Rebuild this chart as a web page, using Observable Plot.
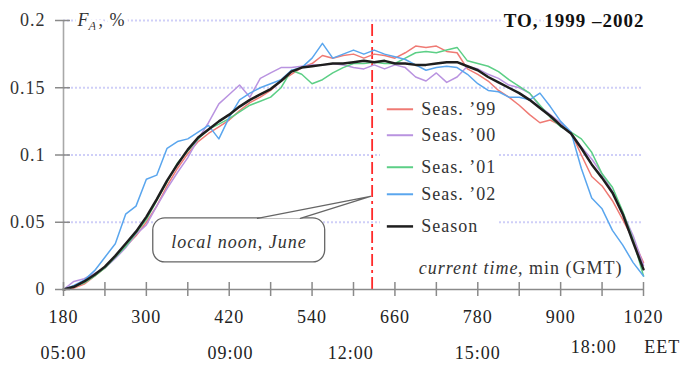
<!DOCTYPE html>
<html>
<head>
<meta charset="utf-8">
<script src="https://cdn.jsdelivr.net/npm/d3@7"></script>
<script src="https://cdn.jsdelivr.net/npm/@observablehq/plot@0.6"></script>
<style>
  html, body { margin: 0; padding: 0; background: #fff; }
  svg text { font-family: "Liberation Serif", "DejaVu Serif", "Times New Roman", serif; letter-spacing: 1px; }
</style>
</head>
<body>
<div id="chart"></div>
<script>
// ---------- data ----------
const minutes = [180,195,210,225,240,255,270,285,300,315,330,345,360,375,390,405,420,435,450,465,480,495,510,525,540,555,570,585,600,615,630,645,660,675,690,705,720,735,750,765,780,795,810,825,840,855,870,885,900,915,930,945,960,975,990,1005,1020];

const seas99 = [0.000,0.001,0.004,0.010,0.016,0.024,0.032,0.040,0.050,0.062,0.077,0.090,0.101,0.110,0.116,0.121,0.126,0.133,0.139,0.143,0.148,0.155,0.160,0.165,0.168,0.174,0.172,0.174,0.175,0.172,0.175,0.174,0.172,0.176,0.181,0.180,0.181,0.177,0.176,0.164,0.160,0.155,0.148,0.143,0.137,0.130,0.124,0.126,0.122,0.117,0.100,0.084,0.077,0.066,0.052,0.037,0.020];

const seas00 = [0.000,0.006,0.008,0.012,0.016,0.023,0.031,0.041,0.048,0.062,0.075,0.087,0.098,0.112,0.124,0.138,0.145,0.152,0.143,0.157,0.161,0.165,0.165,0.166,0.167,0.167,0.168,0.167,0.165,0.164,0.167,0.164,0.167,0.165,0.158,0.155,0.161,0.154,0.158,0.166,0.164,0.160,0.157,0.152,0.150,0.146,0.136,0.130,0.124,0.116,0.106,0.097,0.086,0.073,0.057,0.040,0.018];

const seas01 = [0.000,0.002,0.005,0.010,0.016,0.024,0.032,0.042,0.052,0.066,0.080,0.094,0.103,0.112,0.119,0.123,0.127,0.132,0.137,0.140,0.143,0.150,0.163,0.160,0.153,0.156,0.161,0.165,0.168,0.168,0.169,0.168,0.168,0.172,0.176,0.177,0.176,0.178,0.180,0.170,0.168,0.166,0.162,0.156,0.151,0.146,0.137,0.128,0.121,0.117,0.112,0.102,0.086,0.076,0.058,0.037,0.010];

const seas02 = [0.000,0.003,0.007,0.014,0.024,0.034,0.056,0.062,0.082,0.085,0.105,0.110,0.112,0.117,0.122,0.112,0.128,0.141,0.146,0.150,0.153,0.156,0.163,0.165,0.172,0.183,0.172,0.175,0.178,0.175,0.178,0.175,0.173,0.171,0.167,0.163,0.165,0.166,0.165,0.160,0.153,0.148,0.147,0.143,0.143,0.141,0.146,0.136,0.125,0.117,0.090,0.068,0.060,0.044,0.033,0.020,0.010];

const season = [0.000,0.002,0.006,0.011,0.017,0.025,0.034,0.043,0.054,0.067,0.081,0.093,0.104,0.113,0.119,0.125,0.130,0.136,0.141,0.145,0.149,0.155,0.162,0.165,0.166,0.167,0.168,0.168,0.169,0.170,0.169,0.170,0.168,0.168,0.167,0.167,0.168,0.169,0.169,0.166,0.163,0.158,0.154,0.150,0.146,0.141,0.135,0.129,0.122,0.116,0.105,0.093,0.083,0.072,0.056,0.035,0.015];

const seriesNames = ["Seas. \u201999", "Seas. \u201900", "Seas. \u201901", "Seas. \u201902", "Season"];
const seriesColors = ["#ef7a74", "#b993e0", "#5ccf86", "#5aa6ee", "#1e1e1e"];

const xTickValues = [180,240,300,360,420,480,540,600,660,720,780,840,900,960,1020];
const xTickLabels = [180,300,420,540,660,780,900,1020];
const yTickValues = [0,0.05,0.1,0.15,0.2];
const yTickLabels = ["0","0.05","0.1","0.15","0.2"];
const gridValues = [0.05,0.1,0.15,0.2];
const clockLabelsLow = ["05:00","09:00","12:00","15:00"];
const clockLabelsHigh = ["18:00","EET"];
const localNoon = 627;
const titleText = "TO, 1999 \u20132002";
const calloutText = "local noon, June";

// ---------- layout constants (not data) ----------
const clockXLow = [180, 422, 596, 780];
const clockXHigh = [948, 1047];
const legendX1 = 649, legendX2 = 687, legendTextX = 698;
const legendY = [0.134, 0.1147, 0.0909, 0.0708, 0.0469];
const serif = "Liberation Serif";

const allSeries = [seas99, seas00, seas01, seas02, season];
const tables = allSeries.map((arr, k) => minutes.map((m, i) => ({t: m, v: arr[i], s: seriesNames[k]})));

const legendRows = seriesNames.map((n, k) => ({name: n, color: seriesColors[k], y: legendY[k]}));
const pointer = [{t: 461, v: 0.0529}, {t: 624.6, v: 0.0693}, {t: 523, v: 0.0529}];

const lineMarks = tables.map((tb, k) => Plot.line(tb, {
  x: "t", y: "v", stroke: seriesColors[k],
  strokeWidth: k === 4 ? 2.5 : 1.5, strokeLinejoin: "round"
}));

const chart = Plot.plot({
  width: 684, height: 367,
  marginLeft: 63, marginRight: 41, marginTop: 20, marginBottom: 78,
  x: {domain: [180, 1020], axis: null},
  y: {domain: [0, 0.2], axis: null},
  style: {background: "white", fontFamily: serif, overflow: "visible"},
  marks: [
    // grid
    Plot.ruleY(gridValues, {y: d => d, stroke: "#cfcff8", strokeWidth: 2, strokeDasharray: "2,2"}),
    // local noon line
    Plot.ruleX([localNoon], {x: d => d, y1: 0, y2: 0.2, stroke: "#ff2a2a", strokeWidth: 1.8, strokeDasharray: "12,4,3,4"}),
    // curves
    ...lineMarks,
    // callout
    Plot.rect([0], {x1: 310, x2: 559, y1: 0.0201, y2: 0.0529, rx: 12, fill: "white", stroke: "#666", strokeWidth: 1.3}),
    Plot.line(pointer, {x: "t", y: "v", fill: "white", stroke: "#666", strokeWidth: 1.3}),
    Plot.text([calloutText], {x: 434, y: 0.035, text: d => d, fontSize: 18, fontStyle: "italic", fill: "#333"}),
    // legend
    Plot.rect([0], {x1: 639, x2: 810, y1: 0.037, y2: 0.141, fill: "white"}),
    Plot.ruleY(legendRows, {y: "y", x1: legendX1, x2: legendX2, stroke: "color", strokeWidth: d => d.name === "Season" ? 2.5 : 2}),
    Plot.text(legendRows, {x: legendTextX, y: "y", text: "name", textAnchor: "start", fontSize: 18, fill: "#333"}),
    // axes
    Plot.ruleY([0], {x1: 180, x2: 1020, stroke: "#8a8a8a", strokeWidth: 1.6}),
    Plot.ruleX([180], {y1: 0, y2: 0.2, stroke: "#a8a8a8", strokeWidth: 1.6}),
    Plot.ruleX(xTickValues, {x: d => d, y1: 0, y2: 0, insetTop: -7, insetBottom: -7, stroke: "#8a8a8a", strokeWidth: 1.5}),
    Plot.ruleY(yTickValues, {y: d => d, x1: 180, x2: 180, insetLeft: -8, insetRight: -7, stroke: "#8a8a8a", strokeWidth: 1.5}),
    Plot.text(xTickLabels, {x: d => d, y: 0, dy: 28, text: d => String(d), fontSize: 18, fill: "#222"}),
    Plot.text(yTickLabels, {x: 180, y: (d, i) => yTickValues[i], dx: -18, textAnchor: "end", text: d => d, fontSize: 18, fill: "#333"}),
    Plot.text(clockLabelsLow, {x: (d, i) => clockXLow[i], y: 0, dy: 64, text: d => d, fontSize: 18, fill: "#222"}),
    Plot.text(clockLabelsHigh, {x: (d, i) => clockXHigh[i], y: 0, dy: 58, text: d => d, fontSize: 18, fill: "#222"}),
    // titles
    Plot.text([titleText], {frameAnchor: "top-right", lineAnchor: "middle", textAnchor: "end", dx: 1, text: d => d, fontSize: 19, fontWeight: "bold", fill: "#111", stroke: "white", strokeWidth: 8}),
    Plot.text(["F"], {frameAnchor: "top-left", lineAnchor: "middle", textAnchor: "start", dx: 14, text: d => d, fontSize: 18, fontStyle: "italic", fill: "#333", stroke: "white", strokeWidth: 8}),
    Plot.text(["A"], {frameAnchor: "top-left", lineAnchor: "middle", textAnchor: "start", dx: 25, dy: 5, text: d => d, fontSize: 13, fontStyle: "italic", fill: "#333", stroke: "white", strokeWidth: 6}),
    Plot.text([", %"], {frameAnchor: "top-left", lineAnchor: "middle", textAnchor: "start", dx: 35, text: d => d, fontSize: 18, fill: "#333", stroke: "white", strokeWidth: 8}),
    Plot.text([", min (GMT)"], {frameAnchor: "bottom-right", lineAnchor: "middle", textAnchor: "end", dx: -21, dy: -21, text: d => d, fontSize: 18, fill: "#333"}),
    Plot.text(["current time"], {frameAnchor: "bottom-right", lineAnchor: "middle", textAnchor: "end", dx: -125, dy: -21, text: d => d, fontSize: 18, fontStyle: "italic", fill: "#333"})
  ]
});
document.getElementById("chart").appendChild(chart);
</script>
</body>
</html>
